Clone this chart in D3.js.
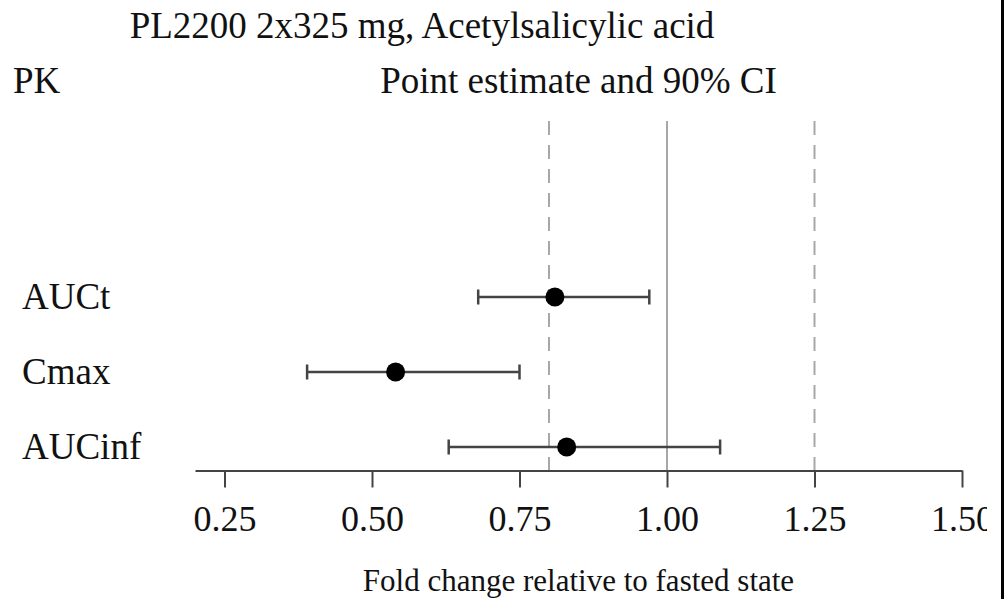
<!DOCTYPE html>
<html>
<head>
<meta charset="utf-8">
<script src="https://cdn.jsdelivr.net/npm/d3@7/dist/d3.min.js"></script>
<style>
  html, body { margin: 0; padding: 0; background: #fff; }
  svg { display: block; }
  text { font-family: "Liberation Serif", "Times New Roman", serif; fill: #111; }
</style>
</head>
<body>
<svg id="chart" width="1004" height="599"></svg>
<script>
const rows = ["AUCt", "Cmax", "AUCinf"];
const estimate = [0.81, 0.54, 0.83];
const ciLow = [0.68, 0.39, 0.63];
const ciHigh = [0.97, 0.75, 1.09];
const refLines = [0.8, 1.0, 1.25];
const tickValues = [0.25, 0.5, 0.75, 1.0, 1.25, 1.5];
const xDomain = [0.2, 1.5];
const titleText = "PL2200 2x325 mg, Acetylsalicylic acid";
const leftHeader = "PK";
const centerHeader = "Point estimate and 90% CI";
const xLabel = "Fold change relative to fasted state";

const svg = d3.select("#chart");
const W = 1004, H = 599;
svg.append("rect").attr("width", W).attr("height", H).attr("fill", "#fff");

const x = d3.scaleLinear().domain(xDomain).range([195, 962]);
const y = d3.scalePoint().domain(rows).range([297, 447]);
const axisY = 470.5;
const refTop = 121;

// reference lines
svg.append("g").selectAll("line").data(refLines).join("line")
  .attr("x1", d => x(d)).attr("x2", d => x(d))
  .attr("y1", refTop).attr("y2", axisY)
  .attr("stroke", "#a8a8a8")
  .attr("stroke-width", 2)
  .attr("stroke-dasharray", d => d === 1 ? null : "14,10");

// data
const data = rows.map((r, i) => ({ r, est: estimate[i], lo: ciLow[i], hi: ciHigh[i] }));
const g = svg.append("g");
g.selectAll("line.ci").data(data).join("line").attr("class", "ci")
  .attr("x1", d => x(d.lo)).attr("x2", d => x(d.hi))
  .attr("y1", d => y(d.r)).attr("y2", d => y(d.r))
  .attr("stroke", "#444").attr("stroke-width", 2.5);
g.selectAll("line.capl").data(data).join("line").attr("class", "capl")
  .attr("x1", d => x(d.lo)).attr("x2", d => x(d.lo))
  .attr("y1", d => y(d.r) - 7.5).attr("y2", d => y(d.r) + 7.5)
  .attr("stroke", "#444").attr("stroke-width", 2.5);
g.selectAll("line.caph").data(data).join("line").attr("class", "caph")
  .attr("x1", d => x(d.hi)).attr("x2", d => x(d.hi))
  .attr("y1", d => y(d.r) - 7.5).attr("y2", d => y(d.r) + 7.5)
  .attr("stroke", "#444").attr("stroke-width", 2.5);
g.selectAll("circle").data(data).join("circle")
  .attr("cx", d => x(d.est)).attr("cy", d => y(d.r)).attr("r", 9.5)
  .attr("fill", "#000");

// row labels
svg.append("g").selectAll("text").data(rows).join("text")
  .attr("x", 22).attr("y", d => y(d)).attr("dy", "0.33em")
  .attr("font-size", 37).text(d => d);

// axis
const axis = d3.axisBottom(x).tickValues(tickValues).tickFormat(d3.format(".2f"))
  .tickSize(17).tickSizeOuter(0).tickPadding(18);
const ax = svg.append("g").attr("transform", `translate(0,${axisY})`).call(axis);
ax.select(".domain").attr("stroke", "#444").attr("stroke-width", 2);
ax.selectAll(".tick line").attr("stroke", "#444").attr("stroke-width", 2);
ax.selectAll(".tick text").attr("font-size", 36).attr("fill", "#111")
  .attr("font-family", "Liberation Serif, Times New Roman, serif");

// titles
svg.append("text").attr("x", 422).attr("y", 38).attr("text-anchor", "middle")
  .attr("font-size", 37).text(titleText);
svg.append("text").attr("x", 13).attr("y", 93)
  .attr("font-size", 37).text(leftHeader);
svg.append("text").attr("x", (x.range()[0] + x.range()[1]) / 2).attr("y", 93).attr("text-anchor", "middle")
  .attr("font-size", 37).text(centerHeader);
svg.append("text").attr("x", (x.range()[0] + x.range()[1]) / 2).attr("y", 591).attr("text-anchor", "middle")
  .attr("font-size", 31).text(xLabel);

// right edge: clip and border
svg.append("rect").attr("x", 987).attr("y", 0).attr("width", 14).attr("height", H).attr("fill", "#fff");
svg.append("rect").attr("x", 1001).attr("y", 0).attr("width", 3).attr("height", H).attr("fill", "#000");
</script>
</body>
</html>
